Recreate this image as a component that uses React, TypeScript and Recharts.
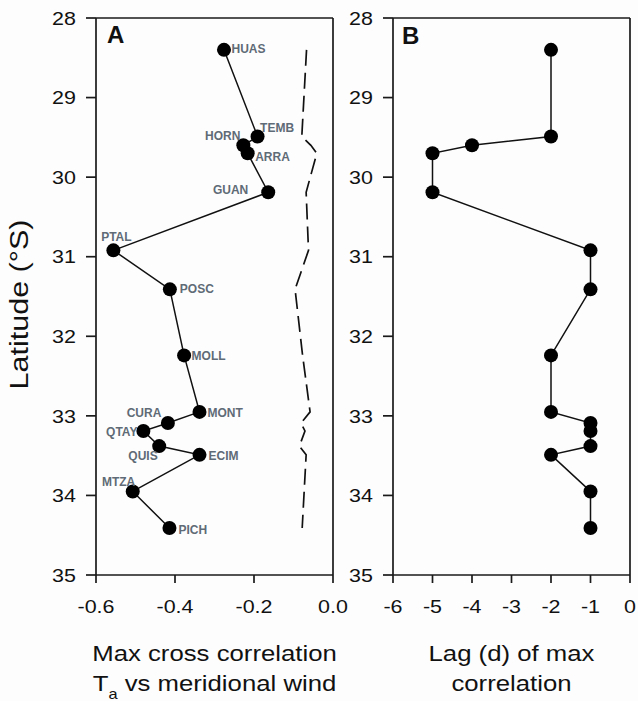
import React from 'react';
import { ScatterChart, Scatter, XAxis, YAxis, ReferenceLine } from 'recharts';

// stations ordered north -> south
const stations = ['HUAS', 'TEMB', 'HORN', 'ARRA', 'GUAN', 'PTAL', 'POSC', 'MOLL', 'MONT', 'CURA', 'QTAY', 'QUIS', 'ECIM', 'MTZA', 'PICH'];
const latitude = [28.4, 29.49, 29.6, 29.7, 30.19, 30.92, 31.41, 32.24, 32.95, 33.09, 33.19, 33.38, 33.49, 33.95, 34.41];
const maxCorr = [-0.276, -0.191, -0.227, -0.216, -0.164, -0.556, -0.413, -0.377, -0.338, -0.418, -0.48, -0.44, -0.338, -0.507, -0.414];
const dashedCorr = [-0.067, -0.079, -0.056, -0.041, -0.068, -0.062, -0.096, -0.077, -0.058, -0.081, -0.071, -0.085, -0.068, -0.073, -0.078];
const lagDays = [-2, -2, -4, -5, -5, -1, -1, -2, -2, -1, -1, -1, -2, -1, -1];

const latTicks = [28, 29, 30, 31, 32, 33, 34, 35];
const corrTicks = [-0.6, -0.4, -0.2, 0];
const lagTicks = [-6, -5, -4, -3, -2, -1, 0];

// where each station name sits relative to its dot
const labelPos: Record<string, { dx: number; dy: number; anchor: 'start' | 'middle' | 'end' }> = {
  HUAS: { dx: 7.5, dy: 3.5, anchor: 'start' },
  TEMB: { dx: 2.5, dy: -5, anchor: 'start' },
  HORN: { dx: -3, dy: -5, anchor: 'end' },
  ARRA: { dx: 7.5, dy: 7.5, anchor: 'start' },
  GUAN: { dx: -20, dy: 1.5, anchor: 'end' },
  PTAL: { dx: 3, dy: -9.5, anchor: 'middle' },
  POSC: { dx: 10, dy: 4, anchor: 'start' },
  MOLL: { dx: 7.5, dy: 5, anchor: 'start' },
  MONT: { dx: 8, dy: 5.5, anchor: 'start' },
  CURA: { dx: -6.5, dy: -6, anchor: 'end' },
  QTAY: { dx: -6, dy: 5, anchor: 'end' },
  QUIS: { dx: -1.5, dy: 14, anchor: 'end' },
  ECIM: { dx: 9, dy: 5, anchor: 'start' },
  MTZA: { dx: 2.5, dy: -5.5, anchor: 'end' },
  PICH: { dx: 9, dy: 5.5, anchor: 'start' },
};

const corrData = stations.map((name, i) => ({ name, x: maxCorr[i], y: latitude[i] }));
const dashedData = stations.map((name, i) => ({ name, x: dashedCorr[i], y: latitude[i] }));
const lagData = stations.map((name, i) => ({ name, x: lagDays[i], y: latitude[i] }));

const FONT = 'Liberation Sans, Arial, Helvetica, sans-serif';
const AXIS = '#1a1a1a';

const XTick = (props: any) => {
  const { x, y, payload, fmt } = props;
  return (
    <g transform={`translate(${x},${y})`}>
      <text transform="scale(1.13,1)" textAnchor="middle" dy="0.71em" fontSize={19} fontFamily={FONT} fill="#111">
        {fmt ? fmt(payload.value) : payload.value}
      </text>
    </g>
  );
};

const YTick = (props: any) => {
  const { x, y, payload } = props;
  return (
    <g transform={`translate(${x},${y})`}>
      <text transform="scale(1.13,1)" textAnchor="end" dy="0.355em" fontSize={19} fontFamily={FONT} fill="#111">
        {payload.value}
      </text>
    </g>
  );
};

const StationDot = (props: any) => {
  const { cx, cy, payload, showName } = props;
  if (cx == null || cy == null) return <g />;
  const p = labelPos[payload.name];
  return (
    <g>
      <circle cx={cx} cy={cy} r={7} fill="#000" />
      {showName && p && (
        <text x={cx + p.dx} y={cy + p.dy} textAnchor={p.anchor} fontSize={12} fontWeight="bold" fontFamily={FONT} fill="#5f6b76">
          {payload.name}
        </text>
      )}
    </g>
  );
};

const TwoLineTitle = ({ viewBox, first, second }: any) => {
  const cx = viewBox.x + viewBox.width / 2;
  return (
    <g fontFamily={FONT} fill="#111">
      <g transform={`translate(${cx},661)`}>
        <text transform="scale(1.17,1)" textAnchor="middle" fontSize={22}>{first}</text>
      </g>
      <g transform={`translate(${cx},691)`}>
        <text transform="scale(1.17,1)" textAnchor="middle" fontSize={22}>{second}</text>
      </g>
    </g>
  );
};

const TaTitle = ({ viewBox }: any) => {
  const cx = viewBox.x + viewBox.width / 2;
  return (
    <g fontFamily={FONT} fill="#111">
      <g transform={`translate(${cx},661)`}>
        <text transform="scale(1.17,1)" textAnchor="middle" fontSize={22}>Max cross correlation</text>
      </g>
      <g transform={`translate(${cx},691)`}>
        <text transform="scale(1.17,1)" textAnchor="middle" fontSize={22}>
          T<tspan fontSize={14} dy={8}>a</tspan>
          <tspan dy={-8}> vs meridional wind</tspan>
        </text>
      </g>
    </g>
  );
};

const LatTitle = ({ viewBox }: any) => {
  const cy = viewBox.y + viewBox.height / 2 + 8;
  return (
    <g transform={`translate(28,${cy}) rotate(-90)`}>
      <text transform="scale(1.22,1)" textAnchor="middle" fontSize={25} fontFamily={FONT} fill="#111">
        Latitude (°S)
      </text>
    </g>
  );
};

const corrFmt = (v: number) => v.toFixed(1);

const letterStyle: React.CSSProperties = {
  position: 'absolute',
  fontFamily: FONT,
  fontWeight: 'bold',
  fontSize: 24,
  lineHeight: '24px',
  color: '#111',
};

export default function App() {
  return (
    <div style={{ position: 'absolute', left: 0, top: 0, width: 638, height: 701, background: '#fdfdfd', overflow: 'hidden' }}>
      <div style={{ position: 'absolute', left: 0, top: 0 }}>
        <ScatterChart width={360} height={701} margin={{ top: 18, right: 27, bottom: 0, left: 0 }}>
          <XAxis
            type="number"
            dataKey="x"
            domain={[-0.6, 0]}
            ticks={corrTicks}
            allowDataOverflow
            height={126}
            stroke={AXIS}
            strokeWidth={1.7}
            tickSize={8}
            tickMargin={16}
            tick={<XTick fmt={corrFmt} />}
            label={{ content: (p: any) => <TaTitle viewBox={p.viewBox} /> }}
          />
          <YAxis
            type="number"
            dataKey="y"
            domain={[28, 35]}
            ticks={latTicks}
            reversed
            allowDataOverflow
            width={96}
            stroke={AXIS}
            strokeWidth={1.7}
            tickSize={10}
            tickMargin={10}
            tick={<YTick />}
            label={{ content: (p: any) => <LatTitle viewBox={p.viewBox} /> }}
          />
          <ReferenceLine y={28} stroke={AXIS} strokeWidth={1.7} />
          <ReferenceLine x={0} stroke={AXIS} strokeWidth={1.7} />
          <Scatter
            data={dashedData}
            line={{ stroke: '#111', strokeWidth: 1.7, strokeDasharray: '16 7' }}
            shape={() => <g />}
            isAnimationActive={false}
          />
          <Scatter
            data={corrData}
            line={{ stroke: '#111', strokeWidth: 1.5 }}
            shape={(p: any) => <StationDot {...p} showName />}
            isAnimationActive={false}
          />
        </ScatterChart>
      </div>
      <div style={{ position: 'absolute', left: 345, top: 0 }}>
        <ScatterChart width={293} height={701} margin={{ top: 18, right: 8, bottom: 0, left: 0 }}>
          <XAxis
            type="number"
            dataKey="x"
            domain={[-6, 0]}
            ticks={lagTicks}
            allowDataOverflow
            height={126}
            stroke={AXIS}
            strokeWidth={1.7}
            tickSize={8}
            tickMargin={16}
            tick={<XTick />}
            label={{ content: (p: any) => <TwoLineTitle viewBox={p.viewBox} first="Lag (d) of max" second="correlation" /> }}
          />
          <YAxis
            type="number"
            dataKey="y"
            domain={[28, 35]}
            ticks={latTicks}
            reversed
            allowDataOverflow
            width={48}
            stroke={AXIS}
            strokeWidth={1.7}
            tickSize={10}
            tickMargin={10}
            tick={<YTick />}
          />
          <ReferenceLine y={28} stroke={AXIS} strokeWidth={1.7} />
          <ReferenceLine x={0} stroke={AXIS} strokeWidth={1.7} />
          <Scatter
            data={lagData}
            line={{ stroke: '#111', strokeWidth: 1.5 }}
            shape={(p: any) => <StationDot {...p} />}
            isAnimationActive={false}
          />
        </ScatterChart>
      </div>
      <div style={{ ...letterStyle, left: 107, top: 23 }}>A</div>
      <div style={{ ...letterStyle, left: 402, top: 24 }}>B</div>
    </div>
  );
}
